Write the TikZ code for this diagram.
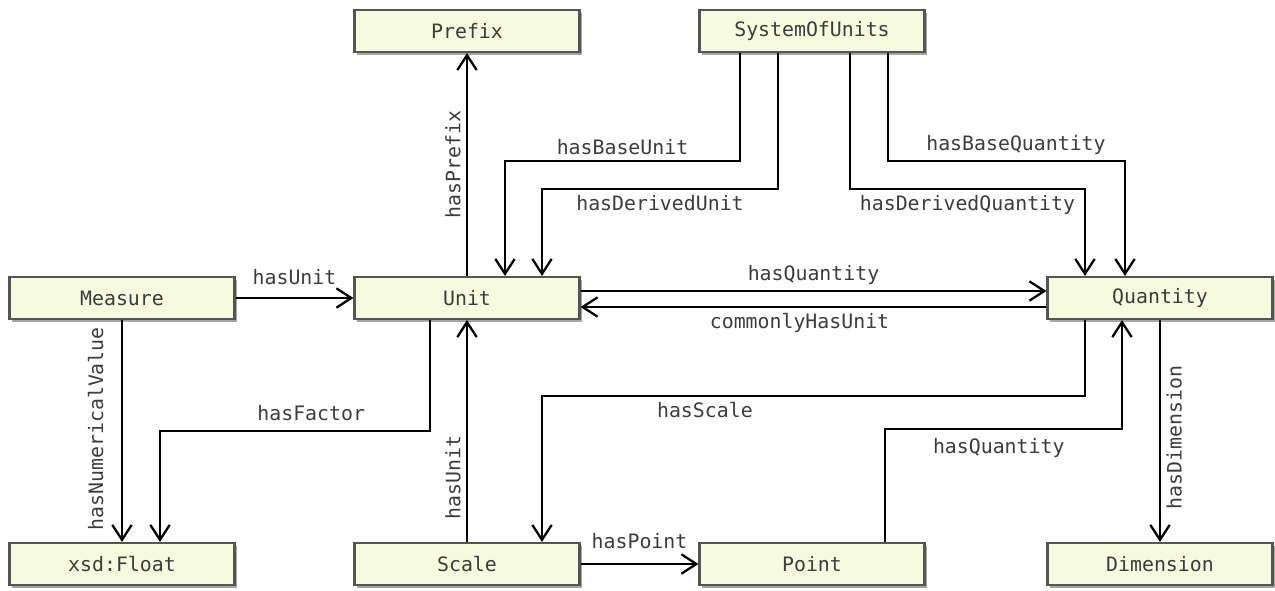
\documentclass[tikz,border=0pt]{standalone}
\usepackage{fontspec}
\setmonofont{DejaVu Sans Mono}
\usepackage{tikz}
\usetikzlibrary{calc,shadows,arrows.meta}
\definecolor{boxfill}{RGB}{246,250,222}
\definecolor{boxline}{RGB}{85,85,85}
\definecolor{labeltext}{RGB}{60,60,60}
\tikzset{
    classbox/.style={draw=boxline, line width=1.2pt, fill=boxfill,
        minimum width=4.5cm, minimum height=0.84cm,
        font=\ttfamily\fontsize{11.3}{13}\selectfont, text=labeltext,
        drop shadow={shadow xshift=1.5pt, shadow yshift=-1.5pt, fill=black!70}},
    link/.style={line width=1.3pt, -{Straight Barb[length=8.5pt,width=11pt,line width=1.3pt]}},
    prop/.style={font=\ttfamily\fontsize{11.3}{13}\selectfont, text=labeltext, inner sep=3pt}
}

\begin{document}
\begin{tikzpicture}[x=0.02cm, y=-0.02cm]
\useasboundingbox (0,0) rectangle (1275,591);
\node[classbox] (prefix) at (467,31) {Prefix}; % top row
\node[classbox] (sou) at (812,31) {SystemOfUnits};
\node[classbox] (measure) at (122,298) {Measure}; % middle row
\node[classbox] (unit) at (467,298) {Unit};
\node[classbox] (quantity) at (1160,298) {Quantity};
\node[classbox] (float) at (122,564) {xsd:Float}; % bottom row
\node[classbox] (scale) at (467,564) {Scale};
\node[classbox] (point) at (812,564) {Point};
\node[classbox] (dimension) at (1160,564) {Dimension};
\draw[link] (unit) -- (prefix) node[prop, midway, rotate=90, above]{hasPrefix}; % unit to prefix
\draw[link] ($(sou.south)+(-72,0)$) -- ++(0,108) -| ($(unit.north)+(38,0)$) node[prop, pos=0.25, above]{hasBaseUnit}; % base unit
\draw[link] ($(sou.south)+(-34,0)$) -- ++(0,136) -| ($(unit.north)+(75,0)$) node[prop, pos=0.25, below]{hasDerivedUnit}; % derived unit
\draw[link] ($(sou.south)+(38,0)$) -- ++(0,136) -| ($(quantity.north)+(-75,0)$) node[prop, pos=0.25, below]{hasDerivedQuantity}; % derived quantity
\draw[link] ($(sou.south)+(76,0)$) -- ++(0,108) -| ($(quantity.north)+(-35,0)$) node[prop, pos=0.27, above]{hasBaseQuantity}; % base quantity
\draw[link] (measure) -- (unit) node[prop, midway, above, inner sep=7pt]{hasUnit}; % measure to unit
\draw[link] ($(unit.east)+(0,-7)$) -- ($(quantity.west)+(0,-7)$) node[prop, midway, above]{hasQuantity}; % unit to quantity
\draw[link] ($(quantity.west)+(0,9)$) -- ($(unit.east)+(0,9)$) node[prop, pos=0.53, below]{commonlyHasUnit}; % quantity to unit
\draw[link] (measure) -- (float) node[prop, pos=0.49, rotate=90, above, inner sep=10pt]{hasNumericalValue}; % numerical value
\draw[link] ($(unit.south)+(-37,0)$) -- ++(0,111) -| ($(float.north)+(38,0)$) node[prop, pos=0.22, above, inner sep=5pt]{hasFactor}; % factor
\draw[link] (scale) -- (unit) node[prop, pos=0.29, rotate=90, above]{hasUnit}; % scale to unit
\draw[link] ($(quantity.south)+(-75,0)$) -- ++(0,76) -| ($(scale.north)+(75,0)$) node[prop, pos=0.35, below]{hasScale}; % quantity to scale
\draw[link] ($(point.north)+(73,0)$) -- ++(0,-113) -| ($(quantity.south)+(-38,0)$) node[prop, pos=0.24, below, inner sep=5pt]{hasQuantity}; % point to quantity
\draw[link] (quantity) -- (dimension) node[prop, pos=0.53, rotate=90, below]{hasDimension}; % dimension
\draw[link] (scale) -- (point) node[prop, midway, above, inner sep=8pt]{hasPoint}; % scale to point
\end{tikzpicture}
\end{document}
